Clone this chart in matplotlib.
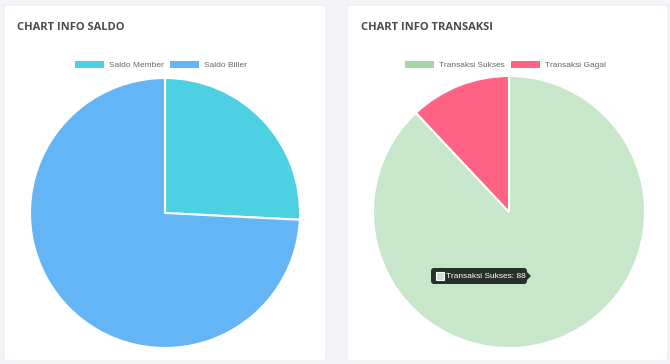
import matplotlib
matplotlib.use("Agg")
import matplotlib.pyplot as plt
from matplotlib.patches import FancyBboxPatch, Rectangle, Polygon

# ---------- data ----------
saldo_labels = ["Saldo Member", "Saldo Biller"]
saldo_values = [25.8, 74.2]
saldo_colors = ["#4dd0e1", "#64b5f6"]

trx_labels = ["Transaksi Sukses", "Transaksi Gagal"]
trx_values = [88, 12]
trx_colors = ["#a5d6a7", "#ff6384"]
trx_hover = ["#c8e6c9", "#ff6384"]   # hovered slice is lighter

W, H = 670, 364
fig = plt.figure(figsize=(W / 100, H / 100), dpi=100, facecolor="#f3f4f8")


def pixel_axes():
    a = fig.add_axes([0, 0, 1, 1])
    a.set_xlim(0, W)
    a.set_ylim(H, 0)
    a.axis("off")
    a.patch.set_alpha(0)
    return a


# cards
bg = pixel_axes()
for x0, w in [(4, 322), (347, 321)]:
    bg.add_patch(FancyBboxPatch((x0, 5), w, 356, boxstyle="round,pad=0,rounding_size=4",
                                facecolor="white", edgecolor="#e9eaee", linewidth=0.6))
bg.text(17, 28, "CHART INFO SALDO", fontsize=8.0, fontweight="bold", family="Open Sans",
        color="#4a4a4a", va="center")
bg.text(361, 28, "CHART INFO TRANSAKSI", fontsize=8.0, fontweight="bold", family="Open Sans",
        color="#4a4a4a", va="center")


def pie_axes(cx, cy, r):
    return fig.add_axes([(cx - r) / W, (H - cy - r) / H, 2 * r / W, 2 * r / H])


def draw_pie(ax, values, colors, legend_colors, labels, leg_cx):
    wedges, _ = ax.pie(values, colors=colors, startangle=90, counterclock=False,
                       wedgeprops=dict(edgecolor="white", linewidth=1.5, clip_on=False))
    ax.set_xlim(-1, 1)
    ax.set_ylim(-1, 1)
    ax.set_aspect("equal")
    ax.axis("off")
    handles = [Rectangle((0, 0), 1, 1, facecolor=c, edgecolor="none") for c in legend_colors]
    fig.legend(handles, labels, loc="center", bbox_to_anchor=(leg_cx / W, 1 - 65 / H),
               ncol=2, frameon=False, prop=dict(family="Liberation Sans", size=6),
               labelcolor="#666666", handlelength=3.4, handleheight=0.9,
               handletextpad=0.6, columnspacing=0.8, borderpad=0)
    return wedges


ax1 = pie_axes(165, 213, 135)
draw_pie(ax1, saldo_values, saldo_colors, saldo_colors, saldo_labels, 161)

ax2 = pie_axes(509, 212, 136)
draw_pie(ax2, trx_values, trx_hover, trx_colors, trx_labels, 505.5)

# tooltip on the hovered slice (overlay in pixel units)
tip = pixel_axes()
tip.add_patch(FancyBboxPatch((431, 268), 96, 16, boxstyle="round,pad=0,rounding_size=3",
                             facecolor="#27302a", edgecolor="none"))
tip.add_patch(Polygon([(527, 272), (531, 276), (527, 280)], closed=True,
                      facecolor="#27302a", edgecolor="none"))
tip.add_patch(Rectangle((436, 271.5), 8, 8.5, facecolor=trx_hover[0],
                        edgecolor="white", linewidth=0.8))
tip.text(446, 276.5, f"{trx_labels[0]}: {trx_values[0]}", fontsize=6.0,
         family="Liberation Sans", color="white", va="center", ha="left")

fig.savefig("out.png", dpi=100, facecolor=fig.get_facecolor())
